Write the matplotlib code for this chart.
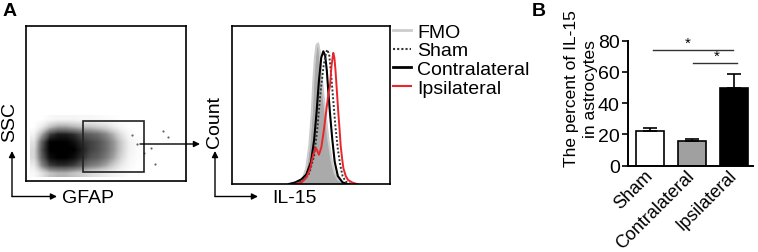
import numpy as np
import matplotlib.pyplot as plt
from matplotlib.patches import Rectangle
from matplotlib.lines import Line2D
from matplotlib.transforms import ScaledTranslation

plt.rcParams['font.family'] = ['Liberation Sans', 'DejaVu Sans']
plt.rcParams['font.size'] = 14

# --- panel A, dot plot: cell density (GFAP x, SSC y, 0-100 box units)
dens_x = np.arange(5, 75, 5)
dens_y = np.arange(5, 45, 5)
dens = np.array([
    [0.05, 0.20, 0.35, 0.40, 0.40, 0.35, 0.30, 0.25, 0.20, 0.15, 0.10, 0.05, 0.00, 0.00],
    [0.15, 0.55, 0.80, 0.85, 0.85, 0.80, 0.70, 0.60, 0.55, 0.45, 0.30, 0.15, 0.05, 0.00],
    [0.25, 0.70, 0.95, 1.00, 1.00, 0.95, 0.85, 0.75, 0.70, 0.60, 0.45, 0.25, 0.08, 0.02],
    [0.25, 0.75, 1.00, 1.00, 1.00, 1.00, 0.90, 0.80, 0.75, 0.65, 0.50, 0.30, 0.10, 0.03],
    [0.20, 0.70, 1.00, 1.00, 1.00, 0.95, 0.85, 0.80, 0.75, 0.65, 0.50, 0.30, 0.10, 0.03],
    [0.10, 0.45, 0.80, 0.90, 0.90, 0.85, 0.75, 0.70, 0.65, 0.55, 0.40, 0.20, 0.05, 0.00],
    [0.00, 0.15, 0.35, 0.45, 0.45, 0.40, 0.35, 0.35, 0.30, 0.25, 0.15, 0.05, 0.00, 0.00],
    [0.00, 0.00, 0.05, 0.08, 0.08, 0.08, 0.06, 0.06, 0.05, 0.03, 0.02, 0.00, 0.00, 0.00],
])
stray_x = [85.6, 88.8, 80.6, 69.4, 74.0, 66.0, 78.0]
stray_y = [32.3, 28.4, 11.0, 23.9, 18.0, 30.0, 21.0]
gate_x = [35.4, 74.0]
gate_y = [6.0, 38.7]

# --- panel A, IL-15 histograms (x: intensity, y: % of max)
fmo_x = [38, 42, 45, 47, 49, 50.5, 51.5, 52.5, 53.5, 54.5, 55.5, 56.5, 58, 59.5, 61, 63, 65, 67, 70, 73]
fmo_y = [0, 1, 4, 10, 25, 45, 65, 80, 88, 89, 84, 70, 55, 42, 28, 15, 7, 3, 1, 0]
contra_x = [36, 40, 44, 47, 50, 52, 53.5, 55, 56.5, 57.8, 59, 60, 61, 62, 63.5, 65, 67, 70, 73]
contra_y = [0, 1, 3, 6, 14, 28, 45, 65, 80, 84, 81, 72, 58, 45, 28, 14, 5, 1, 0]
sham_x = [38, 42, 46, 49, 52, 54, 56, 58, 59.5, 60.3, 61.5, 62.5, 63.5, 64.5, 65.5, 67, 68.5, 70, 72, 75]
sham_y = [0, 1, 3, 7, 18, 35, 58, 75, 83, 85, 82, 72, 60, 48, 36, 22, 12, 5, 1.5, 0]
ipsi_x = [40, 44, 47, 49.5, 51.5, 53, 54, 55, 56.5, 58, 59.5, 61, 62, 63, 64.1, 64.8, 65.5, 66.3,
          67.3, 68.2, 68.8, 69.7, 70.5, 72, 73.5, 76, 79]
ipsi_y = [0, 1, 4, 10, 19, 23, 21, 18.5, 23, 33, 45, 57, 62, 75, 83, 80, 72, 60,
          45, 33, 24, 16, 10, 5, 2.5, 1, 0]

# --- panel B
groups = ['Sham', 'Contralateral', 'Ipsilateral']
pct = [22.5, 16.0, 50.0]
sem = [1.5, 1.0, 9.0]

W, H = 758, 253
fig = plt.figure(figsize=(W / 100, H / 100), dpi=100)


def box(x0, y0, x1, y1):
    # pixel box -> figure fraction
    return [x0 / W, 1 - y1 / H, (x1 - x0) / W, (y1 - y0) / H]


# dot plot
ax1 = fig.add_axes(box(26, 27, 186, 182))
ax1.imshow(dens, origin='lower', cmap='Greys', vmin=0, vmax=1.0, interpolation='bilinear',
           extent=(dens_x[0] - 2.5, dens_x[-1] + 2.5, dens_y[0] - 2.5, dens_y[-1] + 2.5), aspect='auto')
ax1.scatter(stray_x, stray_y, s=2.5, color='#666666', lw=0)
ax1.add_patch(Rectangle((gate_x[0], gate_y[0]), gate_x[1] - gate_x[0], gate_y[1] - gate_y[0],
                        fill=False, ec='#222222', lw=1.2))
ax1.set_xlim(0, 100)
ax1.set_ylim(0, 100)
ax1.set_xticks([])
ax1.set_yticks([])
for s in ax1.spines.values():
    s.set_linewidth(1.2)

# histograms
ax2 = fig.add_axes(box(232, 27, 390, 185))
ax2.fill_between(fmo_x, fmo_y, color='#aaaaaa', lw=0)
ax2.plot(fmo_x, fmo_y, color='#cccccc', lw=1.5)
ax2.plot(contra_x, contra_y, color='black', lw=1.5)
ax2.plot(sham_x, sham_y, color='#333333', lw=1.4, ls=(0, (1, 1)))
ax2.plot(ipsi_x, ipsi_y, color='#e8262b', lw=1.4)
ax2.set_xlim(0, 100)
ax2.set_ylim(0, 100)
ax2.set_xticks([])
ax2.set_yticks([])
for s in ax2.spines.values():
    s.set_linewidth(1.2)

leg_h = [Line2D([], [], color='#cccccc', lw=2),
         Line2D([], [], color='#333333', lw=1.5, ls=(0, (1, 1))),
         Line2D([], [], color='black', lw=2),
         Line2D([], [], color='#e8262b', lw=1.5)]
fig.legend(leg_h, ['FMO', 'Sham', 'Contralateral', 'Ipsilateral'], loc='upper left',
           bbox_to_anchor=(393 / W, 1 - 24 / H), frameon=False, borderaxespad=0, borderpad=0,
           handlelength=0.9, handletextpad=0.35, labelspacing=0.06, fontsize=14)

# bar chart
ax3 = fig.add_axes(box(628, 41.7, 753, 166.7))
xs = np.arange(len(groups))
ax3.bar(xs, pct, width=0.67, color=['white', '#a0a0a0', 'black'], edgecolor='black', lw=1.2,
        yerr=[[0] * 3, sem], error_kw=dict(ecolor='black', elinewidth=1.2, capsize=5, capthick=1.2))
ax3.set_xlim(-0.52, 2.45)
ax3.set_ylim(0, 80)
ax3.set_yticks([0, 20, 40, 60, 80])
ax3.set_xticks(xs)
ax3.set_xticklabels(groups, rotation=45, ha='right', va='center', rotation_mode='anchor')
shift = ScaledTranslation(8 / 100, 0, fig.dpi_scale_trans)
for lab in ax3.get_xticklabels():
    lab.set_transform(lab.get_transform() + shift)
ax3.tick_params(length=4, width=1.2, labelsize=14, pad=2)
ax3.tick_params(axis='x', length=0, pad=5, labelsize=13)
for s in ['top', 'right']:
    ax3.spines[s].set_visible(False)
for s in ['left', 'bottom']:
    ax3.spines[s].set_linewidth(1.4)
ax3.plot([0.08, 1.98], [74, 74], color='#333333', lw=1)
ax3.plot([1.03, 2.06], [65.5, 65.5], color='#333333', lw=1)
ax3.text(0.9, 74.5, '*', ha='center', va='bottom', fontsize=11)
ax3.text(1.59, 66, '*', ha='center', va='bottom', fontsize=11)

# overlay: panel letters, axis arrows and labels
ov = fig.add_axes([0, 0, 1, 1], facecolor='none')
ov.set_xlim(0, W)
ov.set_ylim(H, 0)
ov.axis('off')
ov.text(3, 3, 'A', fontsize=14, fontweight='bold', va='top')
ov.text(532, 3, 'B', fontsize=14, fontweight='bold', va='top')
arr = dict(arrowstyle='-|>', lw=1, color='black', mutation_scale=9, shrinkA=0, shrinkB=0)
for x0, x1 in [(12, 57), (215, 258)]:
    ov.annotate('', xy=(x0, 152), xytext=(x0, 197.5), arrowprops=arr)
    ov.annotate('', xy=(x1, 197.5), xytext=(x0, 197.5), arrowprops=arr)
ov.annotate('', xy=(200, 145), xytext=(140, 145), arrowprops=arr)
ov.text(10, 122, 'SSC', rotation=90, ha='center', va='center', fontsize=14)
ov.text(88, 199, 'GFAP', ha='center', va='center', fontsize=14)
ov.text(215, 122, 'Count', rotation=90, ha='center', va='center', fontsize=14)
ov.text(295, 199, 'IL-15', ha='center', va='center', fontsize=14)
ov.text(581, 89, 'The percent of IL-15\nin astrocytes', rotation=90, ha='center', va='center',
        fontsize=12.5, linespacing=1.3)

fig.savefig('out.png', dpi=100)
